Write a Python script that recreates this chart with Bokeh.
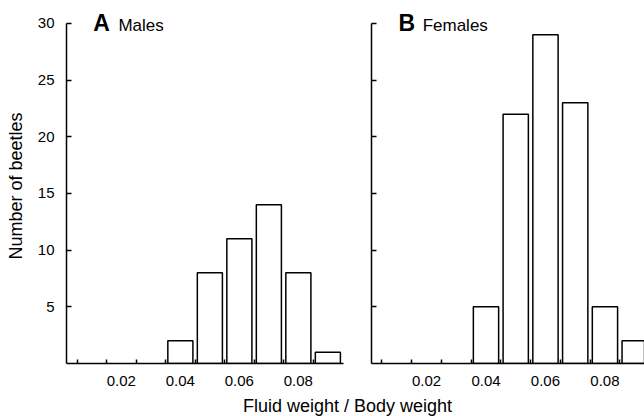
from bokeh.plotting import figure
from bokeh.layouts import column, row
from bokeh.models import Range1d, FixedTicker, Label
from bokeh.embed import file_html
from bokeh.resources import INLINE

# ---- data ----
bin_centers = [0.04, 0.05, 0.06, 0.07, 0.08, 0.09]
males = [2, 8, 11, 14, 8, 1]
females = [5, 22, 29, 23, 5, 2]
x_tick_labels = [0.02, 0.04, 0.06, 0.08]
bin_edges = [0.005, 0.015, 0.025, 0.035, 0.045, 0.055, 0.065, 0.075, 0.085]
y_ticks = [5, 10, 15, 20, 25, 30]

FONT = "Liberation Sans"
BAR_W = 0.0085
Y_TOP = 31.32   # frame extends a little above 30 so the panel titles fit


def style(p, show_y_labels):
    p.outline_line_color = None
    p.xgrid.visible = False
    p.ygrid.visible = False
    p.background_fill_color = "white"
    p.border_fill_color = "white"
    for ax in (p.xaxis[0], p.yaxis[0]):
        ax.axis_line_width = 1.5
        ax.axis_line_color = "black"
        ax.major_label_text_font = FONT
        ax.major_label_text_color = "black"
        ax.major_label_text_font_size = "15px"
        ax.axis_label_text_font = FONT
        ax.axis_label_text_font_style = "normal"
        ax.axis_label_text_font_size = "18px"
        ax.axis_label_text_color = "black"
    xa = p.xaxis[0]
    xa.ticker = FixedTicker(ticks=x_tick_labels, minor_ticks=bin_edges)
    xa.major_tick_in = 0
    xa.major_tick_out = 0
    xa.minor_tick_in = 4
    xa.minor_tick_out = 0
    xa.minor_tick_line_width = 1.5
    xa.minor_tick_line_color = "black"
    xa.major_label_standoff = 12
    ya = p.yaxis[0]
    ya.bounds = (0, 30)
    if show_y_labels:
        ya.ticker = FixedTicker(ticks=y_ticks, minor_ticks=[])
        ya.major_tick_in = 5
        ya.major_tick_out = 0
        ya.major_tick_line_width = 1.5
        ya.major_tick_line_color = "black"
        ya.minor_tick_in = 0
        ya.minor_tick_out = 0
        ya.major_label_standoff = 12
    else:
        # tick marks only, no labels
        ya.ticker = FixedTicker(ticks=[], minor_ticks=y_ticks)
        ya.major_tick_in = 0
        ya.major_tick_out = 0
        ya.minor_tick_in = 5
        ya.minor_tick_out = 0
        ya.minor_tick_line_width = 1.5
        ya.minor_tick_line_color = "black"
        ya.major_label_standoff = 0


def panel_title(p, letter, word, x_letter, x_word):
    p.add_layout(Label(x=x_letter, y=30.0, text=letter, text_font=FONT,
                       text_font_size="23px", text_font_style="bold",
                       text_baseline="middle", text_color="black"))
    p.add_layout(Label(x=x_word, y=29.78, text=word, text_font=FONT,
                       text_font_size="17px", text_baseline="middle",
                       text_color="black"))


# ---- panel A: males ----
p1 = figure(width=350, height=394, output_backend="svg", toolbar_location=None,
            x_range=Range1d(0.0014, 0.0953), y_range=Range1d(0, Y_TOP),
            min_border_left=66, min_border_right=7, min_border_top=8,
            min_border_bottom=31)
p1.vbar(x=bin_centers, top=males, bottom=0, width=BAR_W,
        fill_color="white", line_color="black", line_width=1.5)
style(p1, True)
p1.yaxis[0].axis_label = "Number of beetles"
p1.yaxis[0].axis_label_standoff = 9
panel_title(p1, "A", "Males", 0.0105, 0.0190)

# ---- panel B: females ----
p2 = figure(width=294, height=394, output_backend="svg", toolbar_location=None,
            x_range=Range1d(0.0015, 0.0933), y_range=Range1d(0, Y_TOP),
            min_border_left=21, min_border_right=0, min_border_top=8,
            min_border_bottom=31)
p2.vbar(x=bin_centers, top=females, bottom=0, width=BAR_W,
        fill_color="white", line_color="black", line_width=1.5)
style(p2, False)
panel_title(p2, "B", "Females", 0.0106, 0.0187)

# ---- shared x-axis title ----
p3 = figure(width=644, height=22, output_backend="svg", toolbar_location=None,
            x_range=Range1d(0, 644), y_range=Range1d(0, 22),
            min_border=0, x_axis_type=None, y_axis_type=None)
p3.outline_line_color = None
p3.xgrid.visible = False
p3.ygrid.visible = False
p3.add_layout(Label(x=347, y=11, text="Fluid weight / Body weight",
                    text_font=FONT, text_font_size="18px",
                    text_align="center", text_baseline="middle",
                    text_color="black"))

layout = column(row(p1, p2), p3)
open("out.html", "w").write(file_html(layout, INLINE))
